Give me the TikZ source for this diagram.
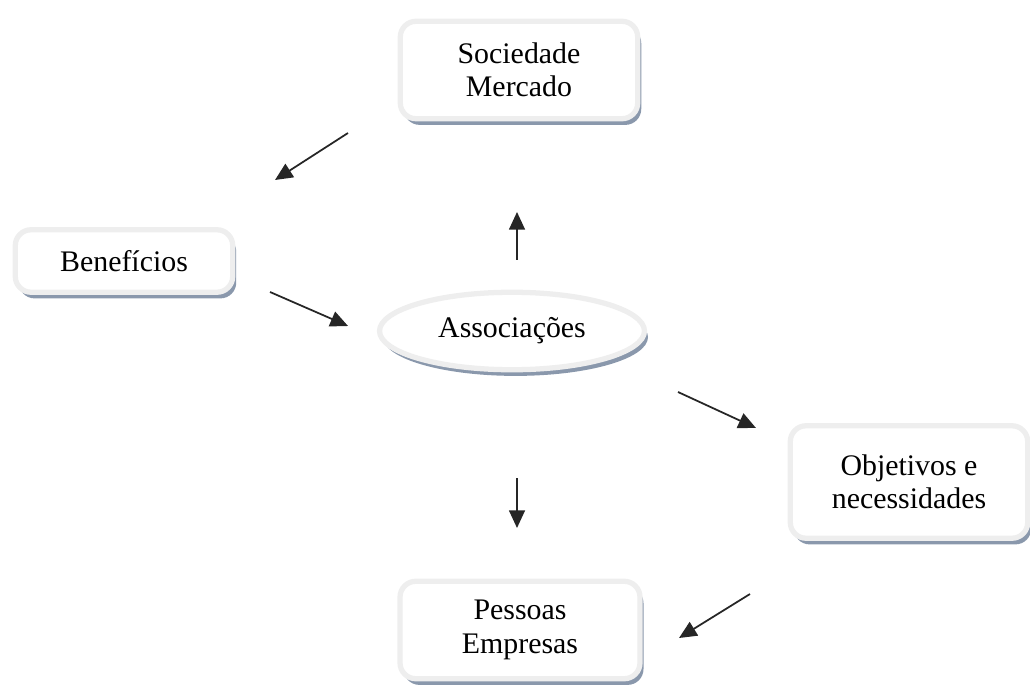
\documentclass[tikz,border=0pt]{standalone}
\usepackage{fontspec}
\setmainfont{Liberation Serif}
\usepackage{tikz}
\usetikzlibrary{shapes.geometric, arrows.meta, positioning, shadows}

\definecolor{shadowblue}{RGB}{138,152,172}
\definecolor{rimgray}{RGB}{238,238,238}

\begin{document}
\begin{tikzpicture}[x=0.02cm, y=-0.02cm,
    caixa/.style={rectangle, rounded corners=9pt, fill=white, draw=rimgray, line width=3pt,
                  align=center, font=\fontsize{17}{19}\selectfont,
                  drop shadow={shadow xshift=2pt, shadow yshift=-3.5pt, fill=shadowblue, opacity=1}},
    elipse/.style={ellipse, fill=white, draw=rimgray, line width=3pt,
                  font=\fontsize{17}{19}\selectfont, inner sep=0pt,
                  drop shadow={shadow xshift=2pt, shadow yshift=-3.5pt, fill=shadowblue, opacity=1}},
    seta/.style={-{Triangle[length=10pt, width=9pt]}, line width=1pt, black!85}]
    \useasboundingbox (0,0) rectangle (1030,685);
    % caixas
    \node[caixa, minimum width=4.75cm, minimum height=1.95cm] (soc) at (519,70) {Sociedade\\Mercado};
    \node[caixa, minimum width=4.35cm, minimum height=1.25cm] (ben) at (124,261) {Benefícios};
    \node[elipse, minimum width=5.3cm, minimum height=1.55cm] (assoc) at (512,331) {Associações};
    \node[caixa, minimum width=4.75cm, minimum height=2.25cm] (obj) at (909,482) {Objetivos e\\necessidades};
    \node[caixa, minimum width=4.8cm, minimum height=1.95cm] (pes) at (520,630) {Pessoas\\Empresas};
    % pontas das setas
    \coordinate (s1a) at (348,133); \coordinate (s1b) at (275,180);
    \coordinate (s2a) at (270,292); \coordinate (s2b) at (348,326);
    \coordinate (s3a) at (517,260); \coordinate (s3b) at (517,212);
    \coordinate (s4a) at (678,392); \coordinate (s4b) at (756,428);
    \coordinate (s5a) at (517,478); \coordinate (s5b) at (517,528);
    \coordinate (s6a) at (750,594); \coordinate (s6b) at (679,638);
    \foreach \a/\b in {s1a/s1b, s2a/s2b, s3a/s3b, s4a/s4b, s5a/s5b, s6a/s6b}
      \draw[seta] (\a) -- (\b);
\end{tikzpicture}
\end{document}
